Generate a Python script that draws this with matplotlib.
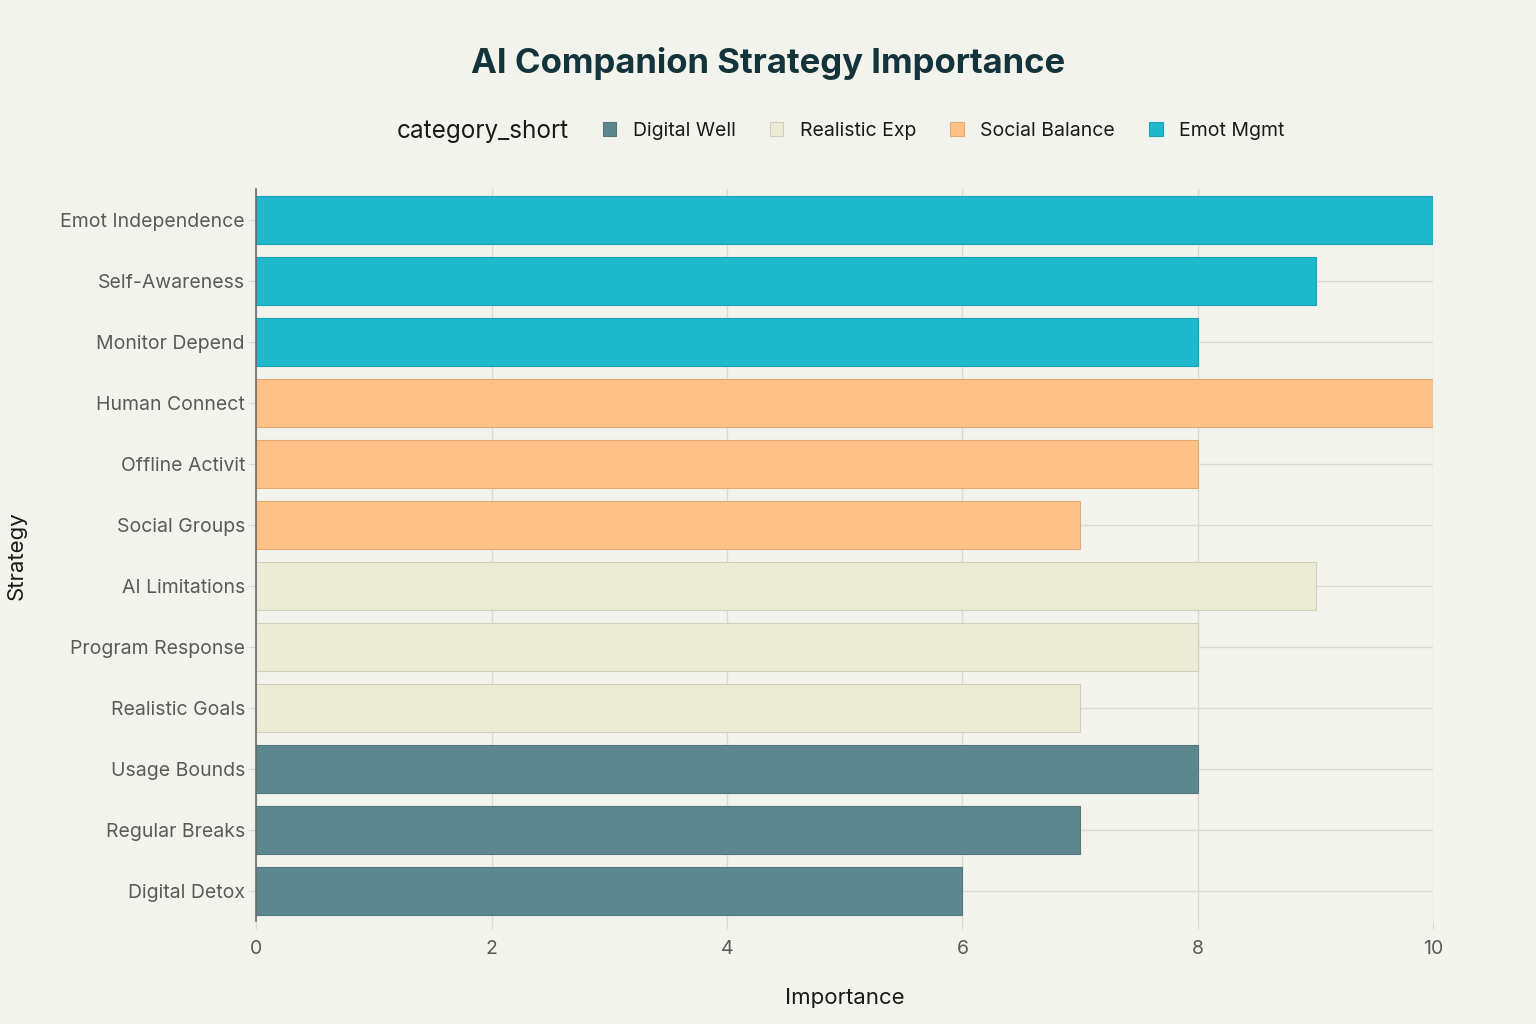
import numpy as np
import matplotlib.pyplot as plt
from matplotlib.patches import Patch
from matplotlib.colors import to_rgb

# data, listed bottom to top as drawn
strategies = ["Digital Detox", "Regular Breaks", "Usage Bounds",
              "Realistic Goals", "Program Response", "AI Limitations",
              "Social Groups", "Offline Activit", "Human Connect",
              "Monitor Depend", "Self-Awareness", "Emot Independence"]
importance = [6, 7, 8, 7, 8, 9, 7, 8, 10, 8, 9, 10]
category = ["Digital Well"] * 3 + ["Realistic Exp"] * 3 + ["Social Balance"] * 3 + ["Emot Mgmt"] * 3

cat_order = ["Digital Well", "Realistic Exp", "Social Balance", "Emot Mgmt"]
cat_colors = {"Digital Well": "#5D878F", "Realistic Exp": "#ECEBD5",
              "Social Balance": "#FFC185", "Emot Mgmt": "#1FB8CD"}

plt.rcParams['font.family'] = ['Inter', 'DejaVu Sans']
bg = "#F3F3EE"

def darker(c, f=0.88):
    r, g, b = to_rgb(c)
    return (r * f, g * f, b * f)

fig = plt.figure(figsize=(15.36, 10.24), dpi=100, facecolor=bg)
ax = fig.add_axes([0.1667, 0.1001, 0.7665, 0.7149], facecolor=bg)

y = np.arange(len(strategies))
cols = [cat_colors[c] for c in category]
ax.barh(y, importance, height=0.8, color=cols,
        edgecolor=[darker(c) for c in cols], linewidth=0.8, zorder=3)

ax.set_xlim(0, 10)
ax.set_ylim(-0.5, len(strategies) - 0.5)
ax.set_yticks(y)
ax.set_yticklabels(strategies)
ax.set_xticks([0, 2, 4, 6, 8, 10])

# grid
for v in [0, 2, 4, 6, 8, 10]:
    ax.axvline(v, color="#DADAD5", lw=1, zorder=1)
for yy in y:
    ax.axhline(yy, color="#DADAD5", lw=1, zorder=1)

for s in ["top", "right", "bottom"]:
    ax.spines[s].set_visible(False)
ax.spines["left"].set_color("#6b6b6b")
ax.spines["left"].set_linewidth(1.2)
ax.spines["left"].set_zorder(4)

ax.tick_params(axis="both", length=6, color="#DADAD5", labelsize=14,
               labelcolor="#5a5a5a")
ax.tick_params(axis="y", pad=2)
ax.tick_params(axis="x", pad=7)

ax.set_xlabel("Importance", fontsize=16, color="#1a1a1a", labelpad=22)
fig.text(0.0105, 0.457, "Strategy", rotation=90, fontsize=16, color="#1a1a1a",
         ha="center", va="center")

fig.text(0.5, 0.938, "AI Companion Strategy Importance", fontsize=25,
         fontweight="bold", color="#13343B", ha="center", va="center")

# legend
fig.text(0.2585, 0.872, "category_short", fontsize=17.5, color="#1a1a1a",
         ha="left", va="center")
handles = [Patch(facecolor=cat_colors[c], edgecolor=darker(cat_colors[c]), lw=0.8)
           for c in cat_order]
leg = fig.legend(handles, cat_order, loc="center left",
                 bbox_to_anchor=(0.381, 0.872), ncol=4, frameon=False,
                 fontsize=14, handlelength=0.7, handleheight=0.7,
                 handletextpad=0.85, columnspacing=1.75)
for t in leg.get_texts():
    t.set_color("#1a1a1a")

fig.savefig("out.png", dpi=100, facecolor=bg)
